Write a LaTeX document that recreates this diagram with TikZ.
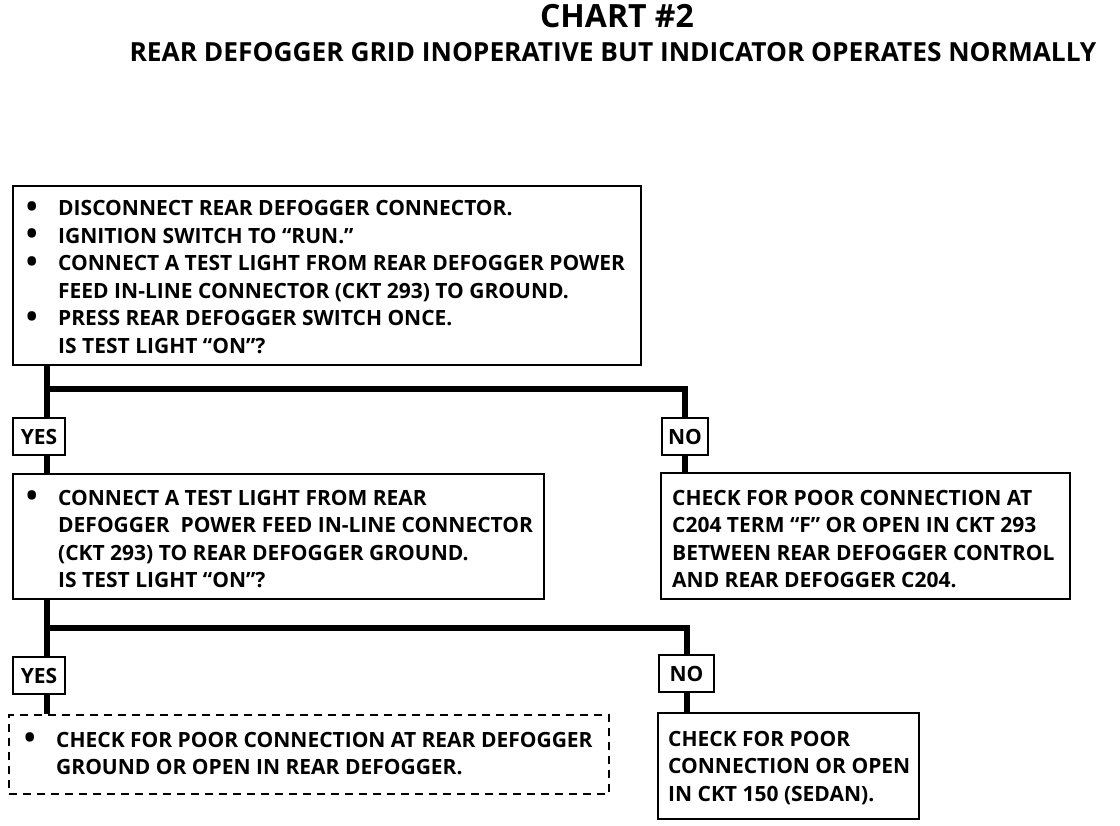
\documentclass[tikz,border=0pt]{standalone}
\usepackage{fontspec}
\setmainfont{Open Sans}
\usetikzlibrary{calc}
\newcommand{\bodyfont}{\fontsize{21}{27.5}\selectfont\bfseries}
\newcommand{\bul}{\makebox[32pt][l]{\raisebox{-1.2pt}{\scalebox{1.45}{\textbullet}}}}
\newcommand{\ind}{\hspace*{32pt}}
\begin{document}
\begin{tikzpicture}[x=1pt,y=-1pt,
  box/.style={draw, line width=2pt, anchor=north west, inner sep=0pt},
  dbox/.style={box, dash pattern=on 8pt off 6pt},
  lbl/.style={draw, line width=2pt, inner sep=0pt, minimum height=37pt, font=\bodyfont},
  txt/.style={anchor=base west, inner sep=0pt, font=\bodyfont},
  conn/.style={line width=6pt, line join=miter}]
\useasboundingbox (0,0) rectangle (1120,826);
% titles
\node[anchor=base, inner sep=0pt, font=\fontsize{32}{34}\selectfont\bfseries] (title) at (617,28) {CHART \#2};
\node[anchor=base, inner sep=0pt, font=\fontsize{26.3}{28}\selectfont\bfseries] (sub) at (613,62) {REAR DEFOGGER GRID INOPERATIVE BUT INDICATOR OPERATES NORMALLY};
% boxes
\node[box, minimum width=628pt, minimum height=179pt] (b1) at (12,185) {};
\node[box, minimum width=531pt, minimum height=125pt] (b2) at (12,473) {};
\node[box, minimum width=409pt, minimum height=126pt] (n1) at (660,472) {};
\node[dbox, minimum width=600pt, minimum height=79pt] (d1) at (8,714) {};
\node[box, minimum width=261pt, minimum height=106pt] (n2) at (657,712) {};
% labels
\node[lbl, minimum width=52pt, anchor=north west] (yes1) at (12,417) {YES};
\node[lbl, minimum width=46pt, anchor=north west] (no1) at (661,417) {NO};
\node[lbl, minimum width=52pt, anchor=north west] (yes2) at (12,656) {YES};
\node[lbl, minimum width=55pt, anchor=north west] (no2) at (658,654) {NO};
% texts
\node[txt] (t1) at (26,216) {\parbox[t]{620pt}{\bodyfont
\bul DISCONNECT REAR DEFOGGER CONNECTOR.\\
\bul IGNITION SWITCH TO “RUN.”\\
\bul CONNECT A TEST LIGHT FROM REAR DEFOGGER POWER\\
\ind FEED IN-LINE CONNECTOR (CKT 293) TO GROUND.\\
\bul PRESS REAR DEFOGGER SWITCH ONCE.\\
\ind IS TEST LIGHT “ON”?}};
\node[txt] (t2) at (26,505) {\parbox[t]{620pt}{\bodyfont
\bul CONNECT A TEST LIGHT FROM REAR\\
\ind DEFOGGER\ \ POWER FEED IN-LINE CONNECTOR\\
\ind (CKT 293) TO REAR DEFOGGER GROUND.\\
\ind IS TEST LIGHT “ON”?}};
\node[txt] (t3) at (672,505) {\parbox[t]{420pt}{\bodyfont
CHECK FOR POOR CONNECTION AT\\
C204 TERM “F” OR OPEN IN CKT 293\\
BETWEEN REAR DEFOGGER CONTROL\\
AND REAR DEFOGGER C204.}};
\node[txt] (t4) at (24,747) {\parbox[t]{620pt}{\bodyfont
\bul CHECK FOR POOR CONNECTION AT REAR DEFOGGER\\
\ind GROUND OR OPEN IN REAR DEFOGGER.}};
\node[txt] (t5) at (668,746) {\parbox[t]{300pt}{\bodyfont
CHECK FOR POOR\\
CONNECTION OR OPEN\\
IN CKT 150 (SEDAN).}};
% connectors
\coordinate (j1) at (47,389);
\coordinate (j2) at (47,628);
\draw[conn] (b1.south -| j1) -- (yes1.north -| j1);
\draw[conn] (j1) -| (no1.north);
\draw[conn] (yes1.south -| j1) -- (b2.north -| j1);
\draw[conn] (no1.south) -- (n1.north -| no1.south);
\draw[conn] (b2.south -| j2) -- (yes2.north -| j2);
\draw[conn] (j2) -| (no2.north);
\draw[conn] (yes2.south -| j2) -- (d1.north -| j2);
\draw[conn] (no2.south) -- (n2.north -| no2.south);
\end{tikzpicture}
\end{document}
